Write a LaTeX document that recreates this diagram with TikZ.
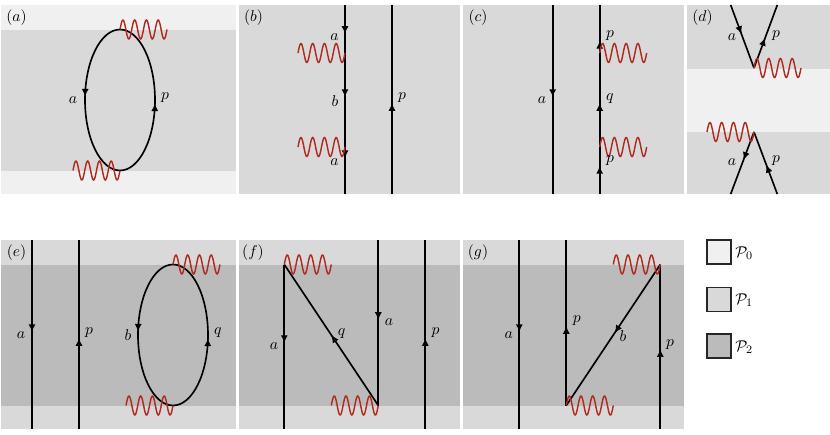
\documentclass[tikz,border=0pt]{standalone}
\usetikzlibrary{arrows.meta,decorations.markings}
\definecolor{levelzero}{HTML}{F0F0F0}
\definecolor{levelone}{HTML}{D9D9D9}
\definecolor{leveltwo}{HTML}{BBBBBB}
\definecolor{photon}{HTML}{B02A20}
\tikzset{
  fermion/.style={draw=black,line width=1.15pt},
  tip/.style={postaction={decorate,decoration={markings,
    mark=at position #1 with {\arrow[fill=black]{Latex[length=5.4pt,width=5pt]}}}}},
  lab/.style={inner sep=0pt,font=\fontsize{11}{13}\selectfont},
  keybox/.style={draw=black!85,line width=1.15pt,minimum size=16.8pt,inner sep=0pt,anchor=center}
}
% photon line: four periods to the right of the given coordinate
\newcommand{\photonline}[1]{%
  \draw[photon,line width=1pt] plot[domain=0:47,samples=120,smooth]
    ([xshift=\x*0.7pt,yshift={9.5*0.7pt*sin(\x*30.6383)}]#1);}
\begin{document}
\begin{tikzpicture}[x=0.7pt,y=-0.7pt]
\useasboundingbox (0,0) rectangle (830,435);

% backgrounds of the upper row
\fill[levelzero] (1,5) rectangle (236,194);
\fill[levelone] (1,30) rectangle (236,171);
\fill[levelone] (239,5) rectangle (460,194);
\fill[levelone] (463,5) rectangle (684,194);
\fill[levelone] (687,5) rectangle (830,194);
\fill[levelzero] (687,69) rectangle (830,132);
% backgrounds of the lower row
\fill[levelone] (1,240) rectangle (236,429);
\fill[leveltwo] (1,265) rectangle (236,406);
\fill[levelone] (239,240) rectangle (460,429);
\fill[leveltwo] (239,265) rectangle (460,406);
\fill[levelone] (463,240) rectangle (684,429);
\fill[leveltwo] (463,265) rectangle (684,406);

% panel letters
\node[lab] (la) at (16.5,18) {$(a)$};
\node[lab] (lb) at (253.5,18) {$(b)$};
\node[lab] (lc) at (478,18) {$(c)$};
\node[lab] (ld) at (702.5,18) {$(d)$};
\node[lab] (le) at (16.5,253) {$(e)$};
\node[lab] (lf) at (253,253) {$(f)$};
\node[lab] (lg) at (478,253) {$(g)$};

% (a) bubble
\coordinate (atop) at (120,29.5);
\coordinate (abot) at (120,170.5);
\coordinate (awb) at (73,170.5);
\draw[fermion,tip=0.48] (atop) arc[start angle=90,end angle=270,x radius=24.5pt,y radius=49.35pt];
\draw[fermion,tip=0.48] (abot) arc[start angle=270,end angle=450,x radius=24.5pt,y radius=49.35pt];
\photonline{atop}
\photonline{awb}
\node[lab] (aa) at (73,100) {$a$};
\node[lab] (ap) at (165,98) {$p$};

% (b) two lines, photons on the left one
\coordinate (bat) at (345,5);
\coordinate (bab) at (345,194);
\coordinate (bpt) at (392,5);
\coordinate (bpb) at (392,194);
\coordinate (bw1) at (298,53);
\coordinate (bw2) at (298,147);
\draw[fermion,tip=0.153,tip=0.487,tip=0.81] (bat) -- (bab);
\draw[fermion,tip=0.481] (bpb) -- (bpt);
\photonline{bw1}
\photonline{bw2}
\node[lab] (ba1) at (334.5,37) {$a$};
\node[lab] (bb) at (335,101) {$b$};
\node[lab] (ba2) at (334.5,162) {$a$};
\node[lab] (bp) at (402,98) {$p$};

% (c) two lines, photons on the right one
\coordinate (cat) at (552.7,5);
\coordinate (cab) at (552.7,194);
\coordinate (cpt) at (599.7,5);
\coordinate (cpb) at (599.7,194);
\coordinate (cw1) at (599.7,53);
\coordinate (cw2) at (599.7,147);
\draw[fermion,tip=0.487] (cat) -- (cab);
\draw[fermion,tip=0.148,tip=0.481,tip=0.81] (cpb) -- (cpt);
\photonline{cw1}
\photonline{cw2}
\node[lab] (ca) at (542,100) {$a$};
\node[lab] (cp1) at (610,36) {$p$};
\node[lab] (cq) at (610,99) {$q$};
\node[lab] (cp2) at (610,161) {$p$};

% (d) pair of vertices facing the middle band
\coordinate (dv1) at (754,68);
\coordinate (dv2) at (754,132);
\coordinate (dtl) at (730.7,5);
\coordinate (dtr) at (777.3,5);
\coordinate (dbl) at (730.7,194);
\coordinate (dbr) at (777.3,194);
\coordinate (dw2) at (707,132);
\draw[fermion,tip=0.46] (dtl) -- (dv1);
\draw[fermion,tip=0.476] (dv1) -- (dtr);
\draw[fermion,tip=0.45] (dv2) -- (dbl);
\draw[fermion,tip=0.47] (dbr) -- (dv2);
\photonline{dv1}
\photonline{dw2}
\node[lab] (da1) at (732,37) {$a$};
\node[lab] (dp1) at (776,36) {$p$};
\node[lab] (da2) at (732,162) {$a$};
\node[lab] (dp2) at (776,161) {$p$};

% (e) two lines next to a bubble
\coordinate (eat) at (32,240);
\coordinate (eab) at (32,429);
\coordinate (ept) at (79,240);
\coordinate (epb) at (79,429);
\coordinate (etop) at (173,264.5);
\coordinate (ebot) at (173,405.5);
\coordinate (ewb) at (126,405.5);
\draw[fermion,tip=0.487] (eat) -- (eab);
\draw[fermion,tip=0.481] (epb) -- (ept);
\draw[fermion,tip=0.48] (etop) arc[start angle=90,end angle=270,x radius=24.5pt,y radius=49.35pt];
\draw[fermion,tip=0.48] (ebot) arc[start angle=270,end angle=450,x radius=24.5pt,y radius=49.35pt];
\photonline{etop}
\photonline{ewb}
\node[lab] (ea) at (21,335) {$a$};
\node[lab] (ep) at (89,333) {$p$};
\node[lab] (eb) at (128,335) {$b$};
\node[lab] (eq) at (218,333) {$q$};

% (f) zig-zag line and a spectator
\coordinate (fv1) at (284.3,264.5);
\coordinate (fv2) at (378.3,405.5);
\coordinate (fbot) at (284.3,429);
\coordinate (ftop) at (378.3,240);
\coordinate (fpt) at (425.3,240);
\coordinate (fpb) at (425.3,429);
\coordinate (fw2) at (331.3,405.5);
\draw[fermion,tip=0.477] (fv1) -- (fbot);
\draw[fermion,tip=0.483] (ftop) -- (fv2);
\draw[fermion,tip=0.5] (fv2) -- (fv1);
\draw[fermion,tip=0.481] (fpb) -- (fpt);
\photonline{fv1}
\photonline{fw2}
\node[lab] (fa1) at (274,346.5) {$a$};
\node[lab] (fa2) at (389,322.5) {$a$};
\node[lab] (fq) at (341.7,334) {$q$};
\node[lab] (fp) at (435.5,333) {$p$};

% (g) spectator and a zig-zag line
\coordinate (gat) at (519.3,240);
\coordinate (gab) at (519.3,429);
\coordinate (gtop) at (566.3,240);
\coordinate (gv1) at (566.3,405.5);
\coordinate (gv2) at (660.3,264.5);
\coordinate (gbot) at (660.3,429);
\coordinate (gw2) at (613.3,264.5);
\draw[fermion,tip=0.487] (gat) -- (gab);
\draw[fermion,tip=0.48] (gv1) -- (gtop);
\draw[fermion,tip=0.486] (gv2) -- (gv1);
\draw[fermion,tip=0.486] (gbot) -- (gv2);
\photonline{gv1}
\photonline{gw2}
\node[lab] (ga) at (508.7,335) {$a$};
\node[lab] (gp1) at (576.7,321) {$p$};
\node[lab] (gb) at (623,336) {$b$};
\node[lab] (gp2) at (670,345) {$p$};

% key
\node[keybox,fill=levelzero] (k0) at (719,252.3) {};
\node[keybox,fill=levelone] (k1) at (719,299.5) {};
\node[keybox,fill=leveltwo] (k2) at (719,346.3) {};
\node[lab,anchor=west] (t0) at (735,253) {$\mathcal{P}_0$};
\node[lab,anchor=west] (t1) at (735,300) {$\mathcal{P}_1$};
\node[lab,anchor=west] (t2) at (735,347) {$\mathcal{P}_2$};
\end{tikzpicture}
\end{document}
